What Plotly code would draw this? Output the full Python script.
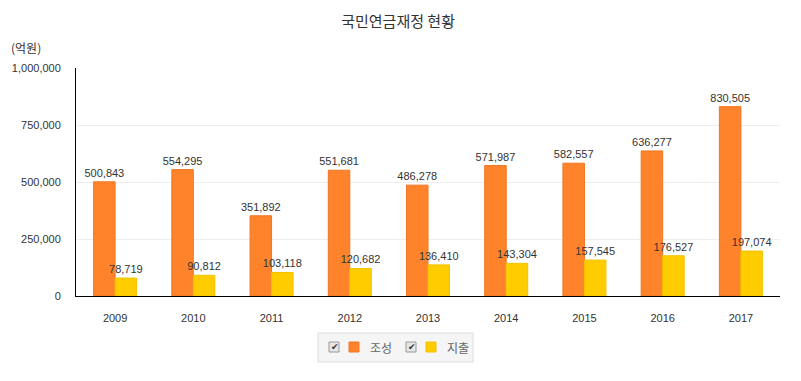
import plotly.graph_objects as go

years = ["2009", "2010", "2011", "2012", "2013", "2014", "2015", "2016", "2017"]
josung = [500843, 554295, 351892, 551681, 486278, 571987, 582557, 636277, 830505]
jichul = [78719, 90812, 103118, 120682, 136410, 143304, 157545, 176527, 197074]
series_names = ["조성", "지출"]
title_text = "국민연금재정 현황"
unit_text = "(억원)"

W, H = 801, 381
L, R, T, B = 76, 780, 68, 296

def px(x):
    return (x - L) / (R - L)

def py(y):
    return (B - y) / (B - T)

ORANGE = "#FF832B"
ORANGE_LINE = "#F07624"
YELLOW = "#FFCC00"
YELLOW_LINE = "#F2C200"
LABEL_FONT = dict(size=11, color="#333333", family="Liberation Sans, Arial")

fig = go.Figure()
fig.add_trace(go.Bar(
    x=years, y=josung, name=series_names[0],
    marker=dict(color=ORANGE, line=dict(color=ORANGE_LINE, width=1)),
    texttemplate="%{y:,}", textposition="outside", constraintext="none",
    textfont=LABEL_FONT, cliponaxis=False,
))
fig.add_trace(go.Bar(
    x=years, y=jichul, name=series_names[1],
    marker=dict(color=YELLOW, line=dict(color=YELLOW_LINE, width=1)),
    texttemplate="%{y:,}", textposition="outside", constraintext="none",
    textfont=LABEL_FONT, cliponaxis=False,
))

shapes = []
annotations = []

# legend box
shapes.append(dict(type="rect", xref="paper", yref="paper",
                   x0=px(318), x1=px(473), y0=py(333), y1=py(362),
                   fillcolor="#F5F5F5", line=dict(color="#DDDDDD", width=1), layer="above"))
legend_items = [(329, ORANGE, ORANGE_LINE, series_names[0]), (406, YELLOW, YELLOW_LINE, series_names[1])]
for cx, col, lcol, name in legend_items:
    shapes.append(dict(type="rect", xref="paper", yref="paper",
                       x0=px(cx), x1=px(cx + 10), y0=py(342), y1=py(352),
                       fillcolor="#E6E6E6", line=dict(color="#9A9A9A", width=1), layer="above"))
    annotations.append(dict(xref="paper", yref="paper", x=px(cx + 5.5), y=py(347),
                            text="✔", showarrow=False, xanchor="center", yanchor="middle",
                            font=dict(size=9, color="#333", family="DejaVu Sans")))
    shapes.append(dict(type="rect", xref="paper", yref="paper",
                       x0=px(cx + 20), x1=px(cx + 30), y0=py(342), y1=py(352),
                       fillcolor=col, line=dict(color=lcol, width=1), layer="above"))
    annotations.append(dict(xref="paper", yref="paper", x=px(cx + 39), y=py(347),
                            text=name, showarrow=False, xanchor="left", yanchor="middle",
                            font=dict(size=12, color="#666666", family="Noto Sans CJK KR")))

annotations.append(dict(xref="paper", yref="paper", x=px(9), y=py(48),
                        text=unit_text, showarrow=False, xanchor="left", yanchor="middle",
                        font=dict(size=12, color="#333333", family="Noto Sans CJK KR")))

fig.update_layout(
    width=W, height=H,
    margin=dict(l=L, r=W - R, t=T, b=H - B, pad=0, autoexpand=False),
    paper_bgcolor="white", plot_bgcolor="white",
    title=dict(text=title_text, x=0.497, xanchor="center", y=1 - 22 / H, yanchor="middle",
               font=dict(size=15, color="#333333", family="Noto Sans CJK KR")),
    showlegend=False,
    barmode="group", bargap=0.45, bargroupgap=0,
    xaxis=dict(showline=True, linecolor="#000", linewidth=1, ticks="",
               tickfont=LABEL_FONT, showgrid=False, automargin=False,
               ticklabelstandoff=12),
    yaxis=dict(range=[0, 1000000], dtick=250000, tickformat=",",
               showline=True, linecolor="#000", linewidth=1, ticks="",
               gridcolor="#EEEEEE", zeroline=False, automargin=False,
               tickfont=LABEL_FONT, ticklabelstandoff=12),
    shapes=shapes, annotations=annotations,
    font=dict(family="Liberation Sans, Arial", color="#333333"),
)

fig.write_html("out.html", config={"displayModeBar": False},
               post_script="document.body.style.margin='0';document.body.style.padding='0';")
